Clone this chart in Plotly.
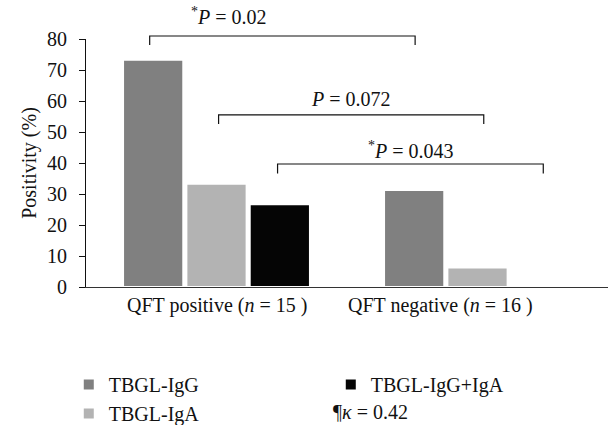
import plotly.graph_objects as go

# ---- data ----
groups = ["QFT positive", "QFT negative"]
group_n = [15, 16]
series_names = ["TBGL-IgG", "TBGL-IgA", "TBGL-IgG+IgA"]
igg_values = [73.3, 31.3]
iga_values = [33.3, 6.3]
combined_values = [26.7, 0.0]
y_tick_values = [0, 10, 20, 30, 40, 50, 60, 70, 80]
p_value_labels = ["<sup>*</sup><i>P</i> = 0.02", "<i>P</i> = 0.072", "<sup>*</sup><i>P</i> = 0.043"]
kappa_note = "¶<i>κ</i> = 0.42"

# ---- style ----
FONT = "Liberation Serif"
FS = 20
colors = ["#808080", "#b3b3b3", "#050505"]
legend_ranks = [1, 3, 2]

fig = go.Figure()
for name, vals, col, rank in zip(series_names, [igg_values, iga_values, combined_values], colors, legend_ranks):
    fig.add_trace(go.Bar(x=list(range(len(groups))), y=vals, name=name,
                         marker=dict(color=col, line=dict(width=2, color="white")),
                         legendrank=rank, hoverinfo="skip"))

# bracket geometry (x in category units, y in paper units)
brackets = [(-0.256, 0.761, 1.012, 0.976),
            (0.008, 1.024, 0.694, 0.657),
            (0.234, 1.252, 0.496, 0.458)]
label_pos = [(0.046, 1.091), (0.516, 0.758), (0.746, 0.554)]

shapes = []
for x0, x1, ytop, ybot in brackets:
    shapes.append(dict(type="path", xref="x", yref="paper",
                       path=f"M {x0},{ybot} L {x0},{ytop} L {x1},{ytop} L {x1},{ybot}",
                       line=dict(color="#111111", width=1.2)))

annotations = []
for txt, (lx, ly) in zip(p_value_labels, label_pos):
    annotations.append(dict(text=txt, x=lx, y=ly, xref="x", yref="paper",
                            showarrow=False, xanchor="center", yanchor="middle",
                            font=dict(family=FONT, size=FS, color="#111111")))

label_shift = [0, -37]
for i, (g, n) in enumerate(zip(groups, group_n)):
    annotations.append(dict(text=f"{g} (<i>n</i> = {n} )", x=i, y=-0.073,
                            xref="x", yref="paper", xshift=label_shift[i],
                            showarrow=False, xanchor="center", yanchor="middle",
                            font=dict(family=FONT, size=FS, color="#111111")))

annotations.append(dict(text=kappa_note, x=(331 - 86) / 522, y=(287 - 412) / 248,
                        xref="paper", yref="paper", showarrow=False,
                        xanchor="left", yanchor="middle",
                        font=dict(family=FONT, size=FS, color="#111111")))

fig.update_layout(
    width=608, height=425,
    margin=dict(l=86, r=0, t=39, b=138, autoexpand=False),
    paper_bgcolor="white", plot_bgcolor="white",
    barmode="group", bargap=0.272, bargroupgap=0.049,
    font=dict(family=FONT, size=FS, color="#111111"),
    showlegend=True,
    legend=dict(orientation="h", x=-0.033, y=-0.315, xanchor="left", yanchor="top",
                xref="paper", yref="paper", entrywidth=217, entrywidthmode="pixels",
                font=dict(family=FONT, size=FS, color="#111111"),
                bgcolor="rgba(0,0,0,0)", borderwidth=0, tracegroupgap=0),
    xaxis=dict(range=[-0.5, 1.5], showline=True, linecolor="#333333", linewidth=1.2,
               showticklabels=False, ticks="", showgrid=False, zeroline=False, fixedrange=True),
    yaxis=dict(range=[0, 80], tickvals=y_tick_values, ticks="outside", ticklen=6,
               tickcolor="#111111", tickwidth=1.2, showline=True, linecolor="#111111",
               linewidth=1.2, showgrid=False, zeroline=False, ticklabelstandoff=8,
               tickfont=dict(family=FONT, size=FS, color="#111111"),
               title=dict(text="Positivity (%)", standoff=4,
                          font=dict(family=FONT, size=FS, color="#111111")),
               fixedrange=True),
    shapes=shapes, annotations=annotations,
)

fig.write_html("out.html", config={"displayModeBar": False},
               post_script="document.body.style.margin='0';")
